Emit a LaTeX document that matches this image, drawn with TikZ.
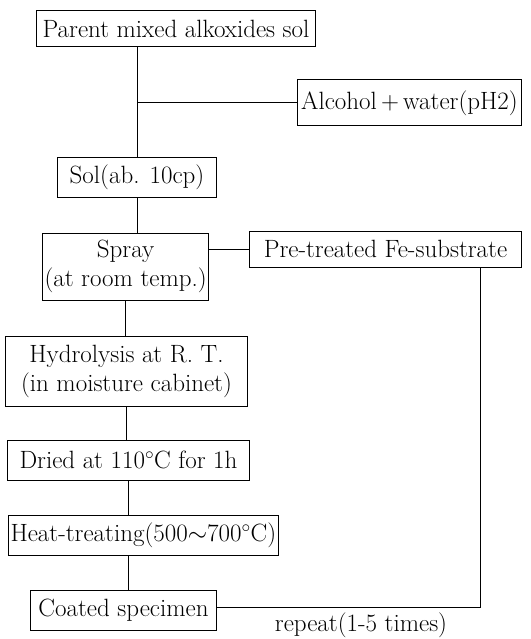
\documentclass[tikz,border=0pt]{standalone}
\usetikzlibrary{positioning}
\tikzset{
  stage/.style={draw, line width=1pt, inner xsep=2pt, inner ysep=0pt,
    minimum height=40pt, align=center, font=\fontsize{25}{29}\selectfont},
  link/.style={line width=1pt},
  remark/.style={font=\fontsize{25}{29}\selectfont, inner sep=0pt}
}
\begin{document}
\begin{tikzpicture}[x=1pt, y=-1pt]
  \useasboundingbox (0,0) rectangle (530,639);
  \node[stage, anchor=west, minimum width=279pt, minimum height=36pt] (parent) at (36,29) {Parent mixed alkoxides sol};
  \node[stage, anchor=west, minimum width=224pt, minimum height=46pt] (alcohol) at (297,103) {Alcohol$\,+\,$water(pH2)};
  \node[stage, anchor=west, minimum width=159pt] (sol) at (57,177.5) {Sol(ab. 10cp)};
  \node[stage, anchor=west, minimum width=166pt, minimum height=67pt] (spray) at (42,266.5) {Spray\\(at room temp.)};
  \node[stage, anchor=west, minimum width=272pt, minimum height=36pt] (pretreat) at (249,249) {Pre-treated Fe-substrate};
  \node[stage, anchor=west, minimum width=242pt, minimum height=70pt] (hydro) at (5,371) {Hydrolysis at R.\ T.\\(in moisture cabinet)};
  \node[stage, anchor=west, minimum width=242pt] (dried) at (7,460) {Dried at 110$^{\circ}$C for 1h};
  \node[stage, anchor=west, minimum width=261pt] (heat) at (8,535.5) {Heat-treating(500$\sim$700$^{\circ}$C)};
  \node[stage, anchor=west, minimum width=186pt] (coated) at (30,610) {Coated specimen};
  \coordinate (turn) at (480,607);
  \node[remark] (repeat) at (361,625) {repeat(1-5 times)};

  % main line
  \draw[link] (parent.south -| sol) -- (sol.north);
  \draw[link] (sol.north |- alcohol.west) -- (alcohol.west);
  \draw[link] (sol.south) -- (sol.south |- spray.north);
  \draw[link] (spray.south) -- (spray.south |- hydro.north);
  \draw[link] (hydro.south) -- (hydro.south |- dried.north);
  \draw[link] (dried.south) -- (dried.south |- heat.north);
  \draw[link] (heat.south -| dried.south) -- (coated.north -| dried.south);
  % substrate and repeat loop
  \draw[link] (spray.east |- pretreat.west) -- (pretreat.west);
  \draw[link] (coated.east |- turn) -- (turn) -- (turn |- pretreat.south);
\end{tikzpicture}
\end{document}
